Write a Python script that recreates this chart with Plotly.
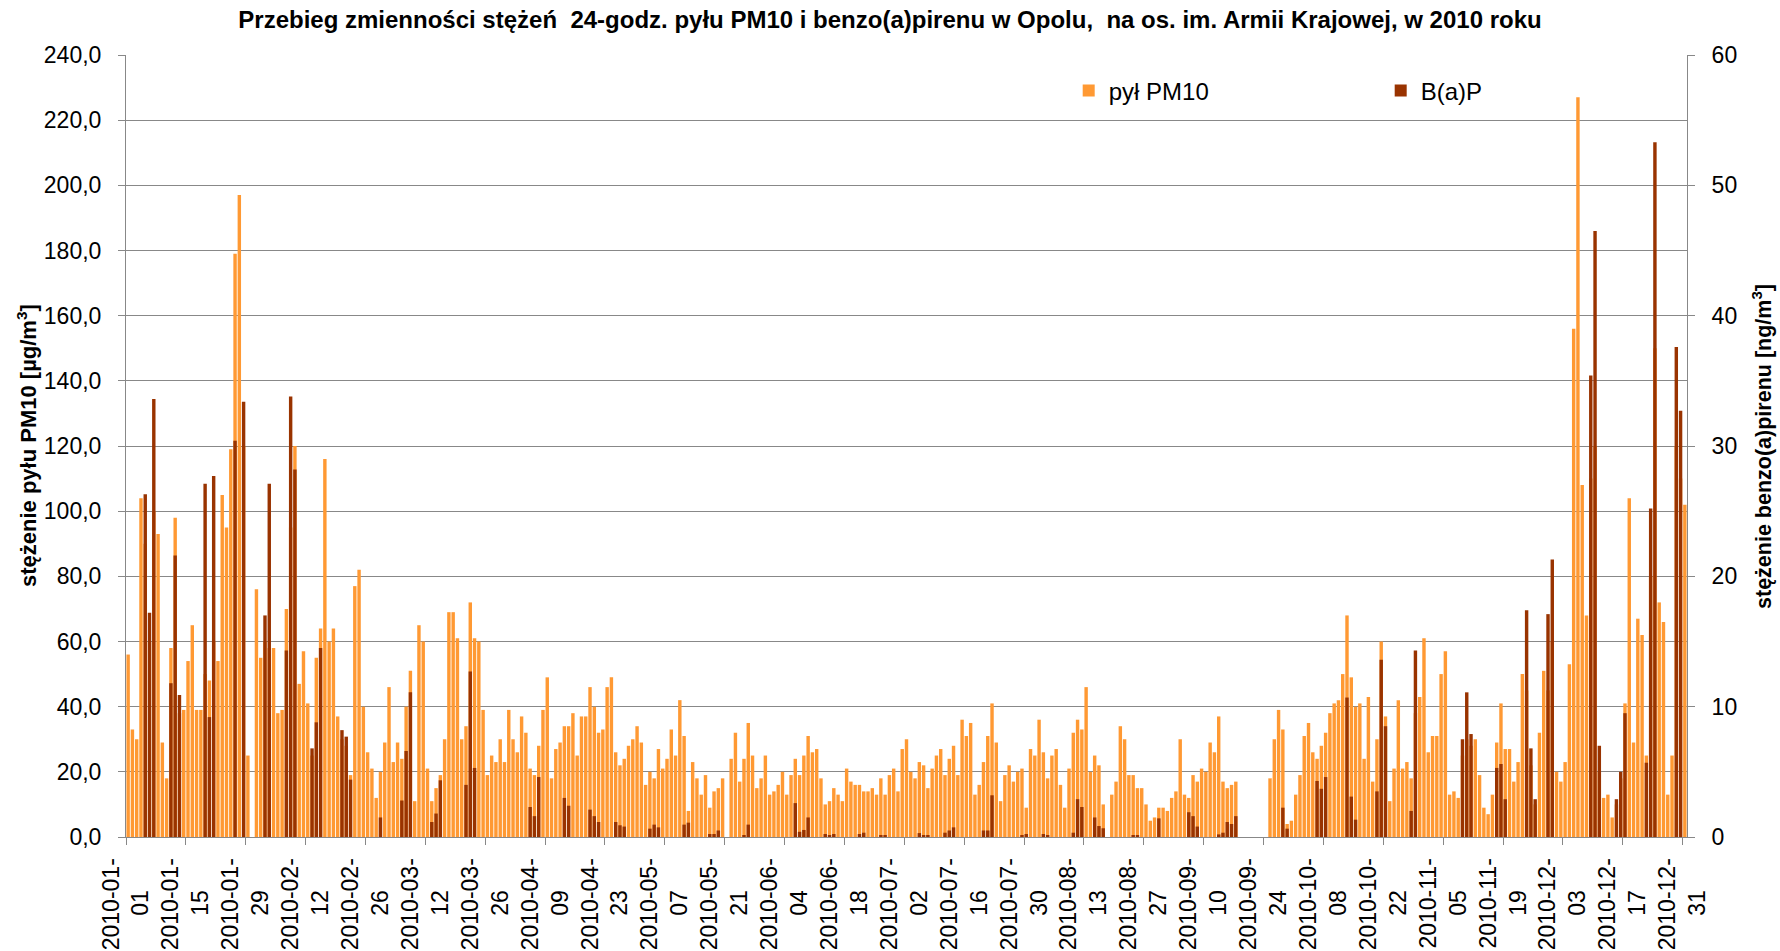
import pandas as pd
import plotly.graph_objects as go

# ---------------- data (daily values, 2010) ----------------
# PM10 24-h concentrations [ug/m3]; None = no measurement
pm10_jan = [56, 33, 30, 104, 90, 60, 100, 93, 29, 18, 58, 98, 38, 39, 54, 65, 39, 39, 50, 48,
            60, 54, 105, 95, 119, 179, 197, 120, 25, None, 76]
pm10_feb = [55, 60, 58, 58, 38, 39, 70, 95, 120, 47, 57, 41, 25, 55, 64, 116, 60, 64, 37, 30,
            28, 19, 77, 82, 40, 26, 21, 12]
pm10_mar = [20, 29, 46, 23, 29, 24, 40, 51, 11, 65, 60, 21, 11, 15, 19, 30, 69, 69, 61, 30,
            34, 72, 61, 60, 39, 19, 25, 23, 30, 23, 39]
pm10_apr = [30, 26, 37, 32, 21, 19, 28, 39, 49, 18, 27, 29, 34, 34, 38, 25, 37, 37, 46, 40,
            32, 33, 46, 49, 26, 22, 24, 28, 30, 34]
pm10_may = [29, 16, 20, 18, 27, 21, 24, 33, 25, 42, 31, 8, 23, 18, 13, 19, 9, 14, 15, 18,
            None, 24, 32, 17, 24, 35, 25, 15, 18, 25, 13]
pm10_jun = [14, 16, 20, 13, 19, 24, 19, 25, 31, 26, 27, 18, 10, 11, 15, 13, 11, 21, 17, 16,
            16, 14, 14, 15, 13, 18, 13, 19, 21, 14]
pm10_jul = [27, 30, 20, 18, 23, 22, 15, 21, 25, 27, 19, 24, 28, 19, 36, 31, 35, 13, 16, 23,
            31, 41, 29, 11, 19, 22, 17, 20, 21, 9, 27]
pm10_aug = [25, 36, 26, 18, 25, 27, 16, 9, 21, 32, 36, 33, 46, 20, 25, 22, 10, None, 13, 17,
            34, 30, 19, 19, 15, 15, 10, 5, 6, 9, 9]
pm10_sep = [8, 12, 14, 30, 13, 12, 19, 17, 21, 20, 29, 26, 37, 17, 15, 16, 17, None, None, None,
            None, None, None, None, 18, 30, 39, 33, 4, 5]
pm10_oct = [13, 19, 31, 35, 26, 24, 28, 32, 38, 41, 42, 50, 68, 49, 40, 41, 24, 43, 17, 30,
            60, 37, 11, 21, 42, 21, 23, 18, 38, 43, 61]
pm10_nov = [26, 31, 31, 50, 57, 13, 14, 12, 25, 30, 28, 30, 19, 9, 7, 13, 29, 41, 27, 27,
            17, 23, 50, 45, 22, 10, 32, 51, 45, 60]
pm10_dec = [20, 17, 23, 53, 156, 227, 108, 68, 110, 120, 20, 12, 13, 6, 10, 18, 41, 104, 29, 67,
            62, 25, 80, 150, 72, 66, 13, 25, 120, 110, 102]

# benzo(a)pyrene [ng/m3] - measurement dates and values
bap_dates = ["01-05", "01-06", "01-07", "01-11", "01-12", "01-13", "01-19", "01-20", "01-21", "01-26", "01-28",
             "02-02", "02-03", "02-07", "02-08", "02-09", "02-13", "02-14", "02-15", "02-20", "02-21", "02-22",
             "03-01", "03-06", "03-07", "03-08", "03-13", "03-14", "03-15", "03-21", "03-22", "03-23",
             "04-05", "04-06", "04-07", "04-13", "04-14", "04-19", "04-20", "04-21", "04-25", "04-26", "04-27",
             "05-03", "05-04", "05-05", "05-11", "05-12", "05-17", "05-18", "05-19", "05-25", "05-26",
             "06-06", "06-07", "06-08", "06-09", "06-13", "06-14", "06-15", "06-21", "06-22", "06-26", "06-27",
             "07-05", "07-06", "07-07", "07-11", "07-12", "07-13", "07-20", "07-21", "07-22", "07-29", "07-30",
             "08-03", "08-04", "08-10", "08-11", "08-12", "08-15", "08-16", "08-17", "08-24", "08-25", "08-30",
             "09-06", "09-07", "09-08", "09-13", "09-14", "09-15", "09-16", "09-17", "09-28", "09-29",
             "10-06", "10-07", "10-08", "10-13", "10-14", "10-15", "10-20", "10-21", "10-22", "10-28", "10-29",
             "11-09", "11-10", "11-11", "11-17", "11-18", "11-19", "11-24", "11-25", "11-26", "11-29", "11-30",
             "12-09", "12-10", "12-11", "12-15", "12-16", "12-17", "12-22", "12-23", "12-24", "12-29", "12-30"]
bap_values = [26.3, 17.2, 33.6, 11.8, 21.6, 10.9, 27.1, 9.2, 27.7, 30.4, 33.4,
              17.0, 27.1, 14.3, 33.8, 28.2, 6.8, 8.8, 14.5, 8.2, 7.7, 4.4,
              1.5, 2.8, 6.6, 11.1, 1.15, 1.8, 4.35, 4.0, 12.7, 5.3,
              2.3, 1.6, 4.6, 3.0, 2.4, 2.1, 1.6, 1.15, 1.15, 0.9, 0.8,
              0.64, 0.95, 0.74, 0.95, 1.1, 0.23, 0.23, 0.5, 0.1, 0.95,
              2.6, 0.4, 0.54, 1.5, 0.23, 0.1, 0.23, 0.23, 0.33, 0.1, 0.1,
              0.3, 0.1, 0.1, 0.33, 0.5, 0.74, 0.5, 0.5, 3.2, 0.1, 0.23,
              0.23, 0.1, 0.33, 2.9, 2.3, 1.5, 0.84, 0.67, 0.1, 0.1, 1.43,
              1.9, 1.6, 0.8, 0.2, 0.33, 1.15, 1.0, 1.6, 2.25, 0.64,
              4.3, 3.7, 4.6, 10.7, 3.1, 1.33, 3.5, 13.6, 8.5, 2.0, 14.3,
              7.5, 11.1, 7.9, 5.3, 5.6, 2.9, 17.4, 6.8, 2.9, 17.1, 21.3,
              35.4, 46.5, 7.0, 2.9, 5.0, 9.5, 5.7, 25.2, 53.3, 37.6, 32.7]

# x-axis tick dates (every 14 days)
tick_dates = pd.date_range("2010-01-01", "2010-12-31", freq="14D")

# ---------------- build ----------------
pm10 = (pm10_jan + pm10_feb + pm10_mar + pm10_apr + pm10_may + pm10_jun +
        pm10_jul + pm10_aug + pm10_sep + pm10_oct + pm10_nov + pm10_dec)
days = pd.date_range("2010-01-01", "2010-12-31", freq="D")
bap_x = pd.to_datetime(["2010-" + d for d in bap_dates])

DAY_MS = 86400000
ORANGE = "#FF9933"
BROWN = "#993300"
GRID = "#888888"
FONT = "Liberation Sans, Arial, sans-serif"

L, R, T, B = 126, 1687.5, 55, 837.5
W, H = 1780, 951
PW, PH = R - L, B - T

fig = go.Figure()
fig.add_trace(go.Bar(
    x=days, y=pm10, name="pył PM10", marker=dict(color=ORANGE, line=dict(width=0)),
    width=0.8 * DAY_MS, xperiod=DAY_MS, xperiodalignment="middle", yaxis="y",
))
fig.add_trace(go.Bar(
    x=bap_x, y=bap_values, name="B(a)P", marker=dict(color=BROWN, line=dict(width=0)),
    width=0.8 * DAY_MS, xperiod=DAY_MS, xperiodalignment="middle", yaxis="y2",
))

pad = "\u00a0" * 5
ticktext = [f"{d:%Y-%m}-<br>{d:%d}{pad}" for d in tick_dates]

fig.update_layout(
    width=W, height=H,
    paper_bgcolor="white", plot_bgcolor="white",
    barmode="overlay",
    separators=", ",
    font=dict(family=FONT, size=23, color="black"),
    margin=dict(l=L, r=W - R, t=T, b=H - B, autoexpand=False),
    title=dict(
        text="Przebieg zmienności stężeń \u00a024-godz. pyłu PM10 i benzo(a)pirenu w Opolu, \u00a0na os. im. Armii Krajowej, w 2010 roku",
        x=0.5, xref="container", xanchor="center",
        y=1 - 20 / H, yref="container", yanchor="middle",
        font=dict(family=FONT, size=24, color="black", weight="bold"),
    ),
    xaxis=dict(
        type="date", range=["2010-01-01", "2011-01-01"], automargin=False,
        tickmode="array", tickvals=tick_dates, ticktext=ticktext,
        tickangle=-90, ticks="outside", ticklen=7, tickcolor=GRID,
        showline=True, linecolor=GRID, linewidth=1, showgrid=False, zeroline=False,
        tickfont=dict(size=23), ticklabelstandoff=4,
    ),
    yaxis=dict(
        range=[0, 240], dtick=20, tickformat=".1f", automargin=False,
        ticks="outside", ticklen=7, tickcolor=GRID,
        showline=True, linecolor=GRID, linewidth=1,
        showgrid=True, gridcolor=GRID, gridwidth=1, zeroline=False,
        tickfont=dict(size=23), ticklabelstandoff=12,
    ),
    yaxis2=dict(
        range=[0, 60], dtick=10, overlaying="y", side="right", automargin=False,
        ticks="outside", ticklen=7, tickcolor=GRID,
        showline=True, linecolor=GRID, linewidth=1,
        showgrid=False, zeroline=False,
        tickfont=dict(size=23), ticklabelstandoff=12,
    ),
    legend=dict(
        orientation="h", x=(1069 - L) / PW, y=(B - 91) / PH,
        xanchor="left", yanchor="middle",
        entrywidth=267, entrywidthmode="pixels",
        font=dict(size=24), bgcolor="rgba(0,0,0,0)", itemclick=False,
    ),
    showlegend=True,
    annotations=[
        dict(text="stężenie pyłu PM10 [µg/m<sup>3</sup>]", textangle=-90,
             x=(27 - L) / PW, y=0.5, xref="paper", yref="paper",
             xanchor="center", yanchor="middle", showarrow=False,
             font=dict(family=FONT, size=22, color="black", weight="bold")),
        dict(text="stężenie benzo(a)pirenu [ng/m<sup>3</sup>]", textangle=-90,
             x=(1762.5 - L) / PW, y=0.5, xref="paper", yref="paper",
             xanchor="center", yanchor="middle", showarrow=False,
             font=dict(family=FONT, size=21.5, color="black", weight="bold")),
    ],
)

# remove the browser's default 8px page margin so the figure fills the window exactly
fig.write_html("out.html", config={"displayModeBar": False},
               post_script="document.body.style.margin='0';")
